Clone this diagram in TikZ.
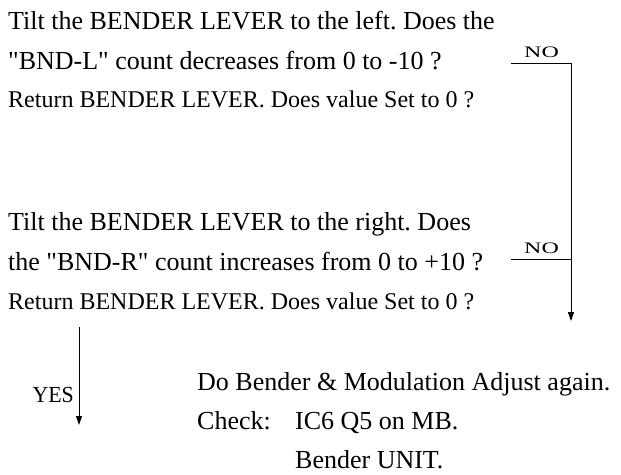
\documentclass[tikz,border=0pt]{standalone}
\usepackage{fontspec}
\setmainfont{Liberation Serif}[Ligatures=TeXOff]
\usetikzlibrary{arrows.meta}
\frenchspacing
\begin{document}
\begin{tikzpicture}[x=1pt,y=1pt,
  big/.style={inner sep=0pt, anchor=base west, font=\fontsize{26}{28}\selectfont},
  small/.style={inner sep=0pt, anchor=base west, font=\fontsize{24}{26}\selectfont},
  lbl/.style={inner sep=0pt, anchor=base},
  conn/.style={line width=1pt},
  arr/.style={line width=1pt, -{Triangle[length=9pt,width=6pt]}}]
\useasboundingbox (0,0) rectangle (621,-474);
% first question
\node[big] (q1a) at (8,-29) {Tilt the BENDER LEVER to the left. Does the};
\node[big] (q1b) at (8,-69) {"BND-L" count decreases from 0 to -10 ?};
\node[small] (q1c) at (8,-107) {Return BENDER LEVER. Does value Set to 0 ?};
% second question
\node[big] (q2a) at (8,-230) {Tilt the BENDER LEVER to the right. Does};
\node[big] (q2b) at (8,-270) {the "BND-R" count increases from 0 to +10 ?};
\node[small] (q2c) at (8,-309) {Return BENDER LEVER. Does value Set to 0 ?};
% result text
\node[big] (r1) at (197,-390) {Do Bender \& Modulation Adjust again.};
\node[big] (r2) at (197,-429) {Check:};
\node[big] (r3) at (295,-429) {IC6 Q5 on MB.};
\node[big] (r4) at (295,-468) {Bender UNIT.};
% labels
\node[lbl, font=\fontsize{16}{16}\selectfont] (no1) at (541.5,-57) {\scalebox{1.5}[1]{NO}};
\node[lbl, font=\fontsize{16}{16}\selectfont] (no2) at (541.5,-253) {\scalebox{1.5}[1]{NO}};
\node[inner sep=0pt, anchor=base east, font=\fontsize{23}{23}\selectfont] (yes) at (74,-402) {\scalebox{0.95}[1]{YES}};
% connector points
\coordinate (n1s) at (511,-63);
\coordinate (n1c) at (571,-63);
\coordinate (n2s) at (511,-259);
\coordinate (n2c) at (571,-259);
\coordinate (noend) at (571,-321);
\coordinate (ys) at (79,-327);
\coordinate (ye) at (79,-425);
\draw[arr] (n1s) -- (n1c) -- (noend);
\draw[conn] (n2s) -- (n2c);
\draw[arr] (ys) -- (ye);
\end{tikzpicture}
\end{document}
